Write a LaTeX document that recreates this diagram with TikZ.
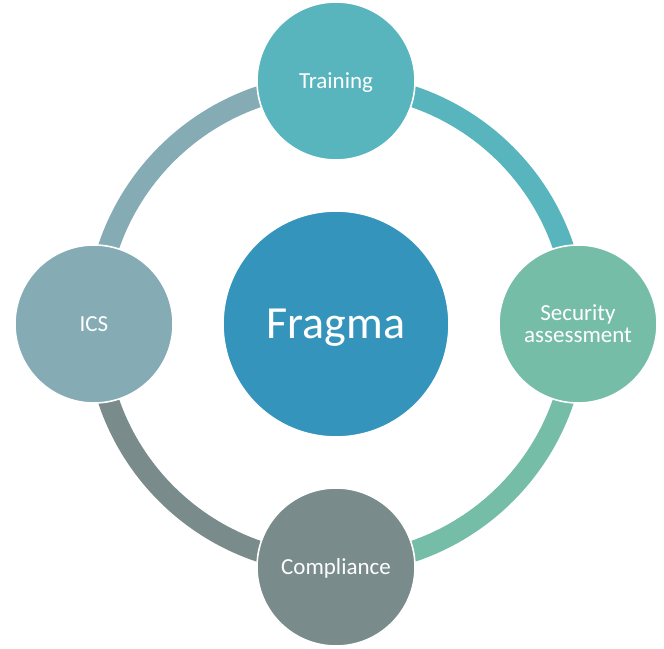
\documentclass[tikz,border=0pt]{standalone}
\usepackage{fontspec}
\setmainfont{Carlito}
\definecolor{ctrain}{HTML}{58B5BE}
\definecolor{csec}{HTML}{75BDA7}
\definecolor{ccomp}{HTML}{798B8B}
\definecolor{cics}{HTML}{85ABB5}
\definecolor{cfrag}{HTML}{3594BB}
\begin{document}
\begin{tikzpicture}[x=0.75pt,y=0.75pt,
  satnode/.style={circle,draw=white,line width=1.2pt,inner sep=0pt,outer sep=0pt,
    minimum size=118.5pt,text=white,align=center,
    font=\fontsize{17.25}{16.5}\selectfont},
  capfix/.style={text height=11.1pt,text depth=0pt},
  hubnode/.style={circle,draw=white,line width=1.2pt,inner sep=0pt,outer sep=0pt,
    minimum size=169.5pt,text=white,fill=cfrag,
    font=\fontsize{34.5}{40}\selectfont,text height=22.2pt,text depth=0pt},
  ringarc/.style={line width=15.75pt}]
\useasboundingbox (0,0) rectangle (664,649);
\coordinate (o) at (336,325);
% ring arcs
\draw[ringarc,ctrain] (o) ++(90:180pt) arc[start angle=90,end angle=0,radius=180pt];
\draw[ringarc,csec] (o) ++(0:180pt) arc[start angle=0,end angle=-90,radius=180pt];
\draw[ringarc,ccomp] (o) ++(-90:180pt) arc[start angle=-90,end angle=-180,radius=180pt];
\draw[ringarc,cics] (o) ++(180:180pt) arc[start angle=180,end angle=90,radius=180pt];
% nodes
\node[hubnode] (frag) at (o) {Fragma};
\node[satnode,capfix,fill=ctrain] (train) at (336,568) {Training};
\node[satnode,fill=csec] (sec) at (578,325) {Security\\assessment};
\node[satnode,capfix,fill=ccomp] (comp) at (336,82) {Compliance};
\node[satnode,capfix,fill=cics] (ics) at (94,325) {ICS};
\end{tikzpicture}
\end{document}
